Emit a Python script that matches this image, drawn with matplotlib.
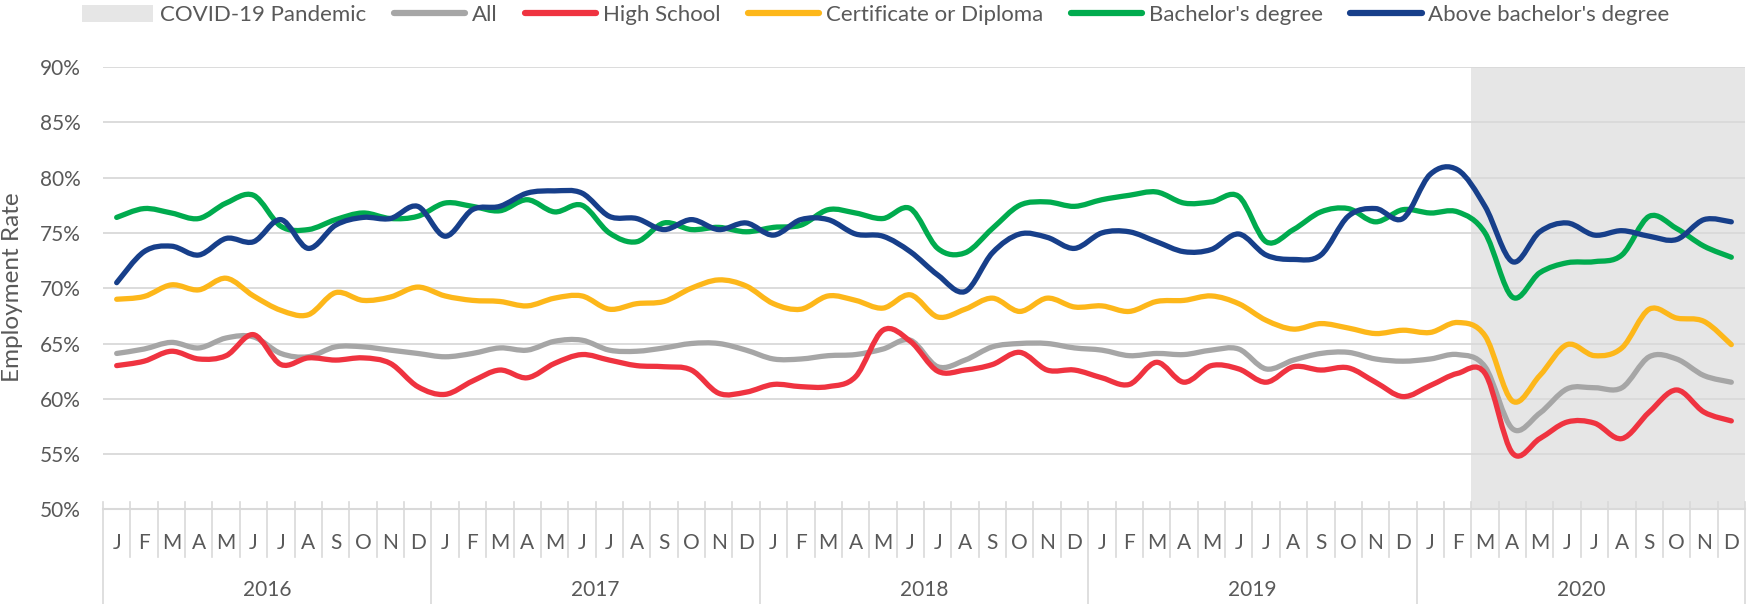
import matplotlib
matplotlib.use('Agg')
import matplotlib.pyplot as plt
from matplotlib.path import Path
from matplotlib.patches import PathPatch, Patch
from matplotlib.lines import Line2D
import matplotlib.transforms as mtransforms

plt.rcParams['font.family'] = ['Lato', 'DejaVu Sans']

# monthly employment rate (%), Jan 2016 - Dec 2020
months = ['J', 'F', 'M', 'A', 'M', 'J', 'J', 'A', 'S', 'O', 'N', 'D']
years = ['2016', '2017', '2018', '2019', '2020']

all_rate = [64.1, 64.5, 65.1, 64.6, 65.5, 65.6, 64.1, 63.8, 64.7, 64.7, 64.4, 64.1,
            63.8, 64.1, 64.6, 64.4, 65.2, 65.3, 64.4, 64.3, 64.6, 65.0, 65.0, 64.4,
            63.6, 63.6, 63.9, 64.0, 64.5, 65.3, 62.9, 63.5, 64.7, 65.0, 65.0, 64.6,
            64.4, 63.9, 64.1, 64.0, 64.4, 64.5, 62.7, 63.5, 64.1, 64.2, 63.6, 63.4,
            63.6, 64.0, 62.9, 57.3, 58.7, 60.9, 61.0, 61.0, 63.8, 63.6, 62.1, 61.5]
high_school = [63.0, 63.4, 64.3, 63.6, 63.9, 65.8, 63.1, 63.7, 63.5, 63.7, 63.2, 61.1,
               60.4, 61.6, 62.6, 61.9, 63.2, 64.0, 63.5, 63.0, 62.9, 62.6, 60.5, 60.6,
               61.3, 61.1, 61.1, 62.0, 66.2, 65.2, 62.5, 62.6, 63.1, 64.2, 62.6, 62.6,
               61.9, 61.3, 63.3, 61.5, 63.0, 62.7, 61.5, 62.9, 62.6, 62.8, 61.5, 60.2,
               61.2, 62.3, 62.3, 55.1, 56.4, 57.9, 57.8, 56.4, 58.8, 60.8, 58.8, 58.0]
certificate = [69.0, 69.25, 70.3, 69.85, 70.9, 69.3, 68.0, 67.6, 69.6, 68.9, 69.2, 70.1,
               69.3, 68.9, 68.8, 68.4, 69.1, 69.3, 68.1, 68.6, 68.8, 70.0, 70.75, 70.2,
               68.6, 68.1, 69.3, 68.9, 68.2, 69.4, 67.4, 68.1, 69.1, 67.9, 69.1, 68.3,
               68.4, 67.9, 68.8, 68.9, 69.3, 68.6, 67.1, 66.3, 66.8, 66.4, 65.9, 66.2,
               66.0, 66.9, 65.7, 59.8, 62.1, 64.9, 63.9, 64.6, 68.1, 67.3, 67.0, 64.9]
bachelor = [76.4, 77.2, 76.8, 76.3, 77.7, 78.4, 75.6, 75.3, 76.2, 76.8, 76.3, 76.5,
            77.7, 77.4, 77.0, 78.0, 76.9, 77.5, 75.0, 74.2, 75.9, 75.3, 75.5, 75.1,
            75.5, 75.7, 77.1, 76.8, 76.3, 77.2, 73.6, 73.2, 75.4, 77.5, 77.8, 77.4,
            78.0, 78.4, 78.7, 77.7, 77.8, 78.3, 74.2, 75.3, 76.9, 77.2, 76.0, 77.1,
            76.8, 76.9, 75.0, 69.2, 71.4, 72.3, 72.4, 73.0, 76.5, 75.4, 73.8, 72.8]
above_bachelor = [70.5, 73.3, 73.8, 73.0, 74.5, 74.2, 76.2, 73.6, 75.7, 76.4, 76.3, 77.4,
                  74.7, 77.1, 77.4, 78.6, 78.8, 78.6, 76.5, 76.3, 75.3, 76.2, 75.3, 75.9,
                  74.8, 76.2, 76.2, 74.9, 74.7, 73.3, 71.2, 69.7, 73.2, 74.9, 74.6, 73.6,
                  75.0, 75.1, 74.2, 73.3, 73.5, 74.9, 73.0, 72.6, 73.0, 76.5, 77.2, 76.3,
                  80.3, 80.7, 77.4, 72.4, 75.1, 75.9, 74.8, 75.2, 74.7, 74.4, 76.2, 76.0]

series = [('All', all_rate, '#A6A6A6'),
          ('High School', high_school, '#EF3340'),
          ('Certificate or Diploma', certificate, '#FDB71A'),
          ("Bachelor's degree", bachelor, '#00AB4E'),
          ("Above bachelor's degree", above_bachelor, '#173F8A')]

covid_start = 50  # March 2020
text_color = '#595959'
grid_color = '#D9D9D9'


def smooth_path(xs, ys):
    # Excel-style smoothed line: cubic bezier through every point
    n = len(xs)
    verts = [(xs[0], ys[0])]
    codes = [Path.MOVETO]
    for i in range(n - 1):
        x0, y0 = xs[max(i - 1, 0)], ys[max(i - 1, 0)]
        x1, y1 = xs[i], ys[i]
        x2, y2 = xs[i + 1], ys[i + 1]
        x3, y3 = xs[min(i + 2, n - 1)], ys[min(i + 2, n - 1)]
        verts += [(x1 + (x2 - x0) / 6, y1 + (y2 - y0) / 6),
                  (x2 - (x3 - x1) / 6, y2 - (y3 - y1) / 6),
                  (x2, y2)]
        codes += [Path.CURVE4] * 3
    return Path(verts, codes)


W, H = 1748, 604
fig = plt.figure(figsize=(W / 100, H / 100), dpi=100)
ax = fig.add_axes([103 / W, 1 - 509.4 / H, 1642 / W, 442.4 / H])

n = len(all_rate)
xs = [i + 0.5 for i in range(n)]

ax.axvspan(covid_start, n, color='#E6E6E6', zorder=0, lw=0)

for name, vals, col in series:
    ax.add_patch(PathPatch(smooth_path(xs, vals), fill=False, edgecolor=col,
                           lw=3.8, capstyle='round', joinstyle='round', zorder=3))

ax.set_xlim(0, n)
ax.set_ylim(50, 90)
ax.set_yticks(range(50, 95, 5))
ax.set_yticklabels([f'{v}%' for v in range(50, 95, 5)])
ax.yaxis.grid(True, color=grid_color, lw=1.3, zorder=1)
ax.set_axisbelow(True)
ax.tick_params(axis='y', length=0, pad=16, labelsize=15, labelcolor=text_color)
ax.set_xticks([])
for s in ['top', 'right', 'left']:
    ax.spines[s].set_visible(False)
ax.spines['bottom'].set_color(grid_color)
ax.spines['bottom'].set_linewidth(1.5)

# two-level category axis: months and years
trans = mtransforms.blended_transform_factory(ax.transData, ax.transAxes)
for k in range(n + 1):
    bottom = -0.214 if k % 12 == 0 else -0.107
    ax.plot([k, k], [0.0174, bottom], color=grid_color, lw=1.2,
            transform=trans, clip_on=False)
for i in range(n):
    ax.text(i + 0.5, -0.076, months[i % 12], transform=trans, ha='center',
            va='center', fontsize=15, color=text_color)
for j, yr in enumerate(years):
    ax.text(j * 12 + 6, -0.183, yr, transform=trans, ha='center',
            va='center', fontsize=15, color=text_color)

fig.text(13 / W, 1 - 287 / H, 'Employment Rate', rotation=90, ha='center',
         va='center', fontsize=17.5, color=text_color)

handles = [Patch(facecolor='#E6E6E6', edgecolor='none', label='COVID-19 Pandemic')]
for name, vals, col in series:
    handles.append(Line2D([], [], color=col, lw=4.5, solid_capstyle='round', label=name))
fig.legend(handles=handles, loc='center left', bbox_to_anchor=(82 / W, 1 - 15 / H),
           ncol=6, frameon=False, fontsize=16, labelcolor=text_color,
           handlelength=3.2, handleheight=0.8, handletextpad=0.3,
           columnspacing=1.25, borderpad=0, borderaxespad=0)

fig.savefig('out.png', dpi=100)
